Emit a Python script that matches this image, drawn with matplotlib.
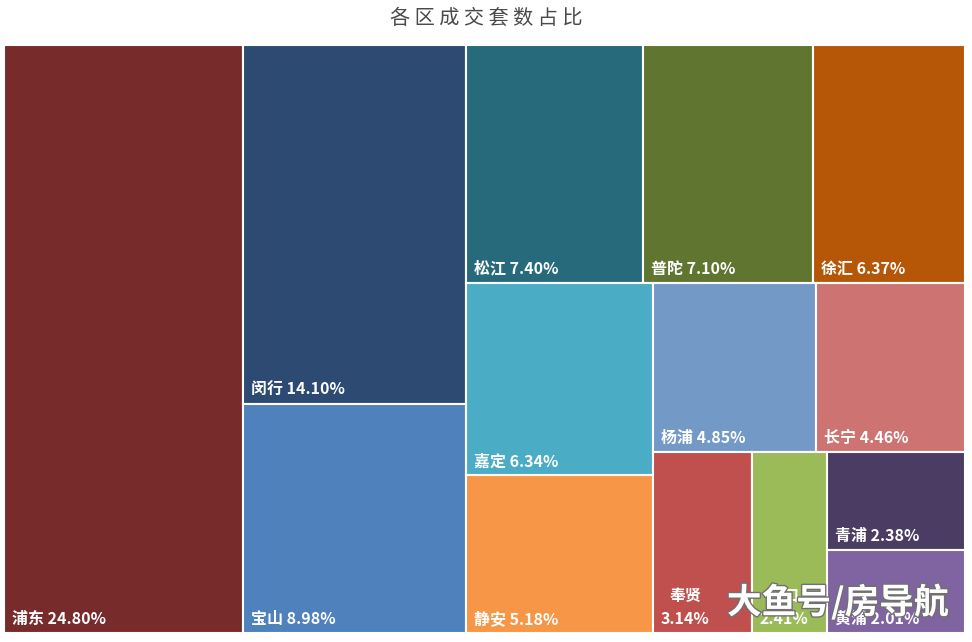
import matplotlib
matplotlib.use('Agg')
from matplotlib import pyplot as plt
from matplotlib.patches import Rectangle
import matplotlib.patheffects as pe

plt.rcParams['font.family'] = ['Noto Sans CJK SC', 'DejaVu Sans']

# 各区成交套数占比, %
districts = ['浦东', '闵行', '宝山', '松江', '普陀', '徐汇', '嘉定', '静安',
             '杨浦', '长宁', '奉贤', '虹口', '青浦', '黄浦']
shares = [24.80, 14.10, 8.98, 7.40, 7.10, 6.37, 6.34, 5.18,
          4.85, 4.46, 3.14, 2.41, 2.38, 2.01]
colors = ['#772b2b', '#2c4a72', '#4f81bd', '#276a7c', '#5f7530', '#b65708',
          '#4bacc6', '#f79646', '#7399c6', '#cd7371', '#c0504d', '#9bbb59',
          '#4a3c62', '#8064a2']
# сколько ячеек в каждой полосе раскладки
strips = [1, 2, 3, 2, 2, 1, 1, 1, 1]
title = '各区成交套数占比'

W, H = 961, 588


def layout(values, strips, x, y, w, h):
    rects = []
    i = 0
    for n in strips:
        rest = sum(values[i:])
        part = values[i:i + n]
        tot = sum(part)
        if w >= h:
            # колонка слева
            cw = w * tot / rest
            yy = y
            for v in part:
                ch = h * v / tot
                rects.append((x, yy, cw, ch))
                yy += ch
            x += cw
            w -= cw
        else:
            # полоса сверху
            ch = h * tot / rest
            xx = x
            for v in part:
                cw = w * v / tot
                rects.append((xx, y, cw, ch))
                xx += cw
            y += ch
            h -= ch
        i += n
    return rects


rects = layout(shares, strips, 0, 0, W, H)

fig = plt.figure(figsize=(9.72, 6.42), dpi=100)
ax = fig.add_axes([4 / 972, 9 / 642, W / 972, H / 642])
ax.set_xlim(0, W)
ax.set_ylim(H, 0)
ax.axis('off')

for (x, y, w, h), name, v, c in zip(rects, districts, shares, colors):
    ax.add_patch(Rectangle((x, y), w, h, facecolor=c, edgecolor='white', linewidth=1.5))
    sep = '\n' if w < 100 else ' '
    ax.text(x + 8, y + h - 6, f'{name}{sep}{v:.2f}%', color='white', fontsize=11.5,
            fontweight='bold', ha='left', va='bottom', multialignment='center',
            linespacing=1.5)

fig.text(0.5, 0.971, ' '.join(title), ha='center', va='center',
         fontsize=14.5, color='#4a4a4a', fontweight='medium')

fig.text(0.862, 0.062, '大鱼号/房导航', ha='center', va='center', fontsize=25,
         color='white', fontweight='bold',
         path_effects=[pe.withStroke(linewidth=2, foreground='#707070')])

fig.savefig('out.png', dpi=100)
